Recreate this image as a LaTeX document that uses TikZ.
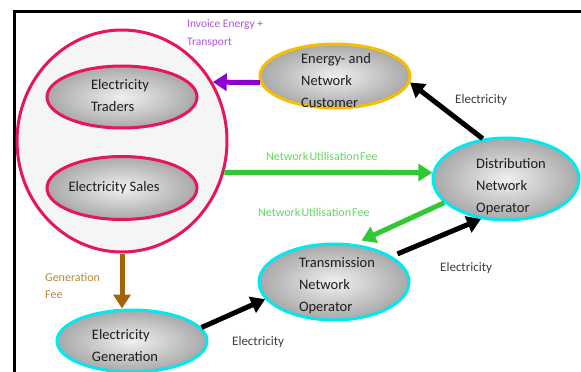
\documentclass[tikz,border=0pt]{standalone}
\usepackage{fontspec}
\setmainfont{Carlito}
\usetikzlibrary{arrows.meta,shapes.geometric}
\definecolor{pinkb}{RGB}{230,22,92}
\definecolor{goldb}{RGB}{245,190,0}
\definecolor{cyanb}{RGB}{0,232,240}
\definecolor{purpa}{RGB}{140,0,210}
\definecolor{purpl}{RGB}{170,85,220}
\definecolor{greena}{RGB}{50,200,50}
\definecolor{greenl}{RGB}{100,212,100}
\definecolor{browna}{RGB}{160,100,10}
\definecolor{brownl}{RGB}{185,135,55}
\definecolor{txt}{RGB}{30,30,30}
\definecolor{lbl}{RGB}{60,60,60}
\newcommand\myNufont{\fontsize{12}{13}\selectfont\spaceskip=1.2pt\relax}
\tikzset{
  oval/.style={ellipse, inner sep=0pt, line width=3pt, inner color=gray!12, outer color=gray!68},
  ovaltext/.style={align=left, font=\fontsize{14.5}{22}\selectfont, text=txt, inner sep=0pt},
  lab/.style={align=left, inner sep=0pt, anchor=west},
  flow/.style={line width=5pt, -{Triangle[length=14pt,width=17pt]}},
}
\begin{document}
\begin{tikzpicture}[x=1pt,y=-1pt]
\useasboundingbox (0,0) rectangle (581,372);
\draw[line width=3pt] (14.7,372) -- (14.7,11.3) -- (581,11.3);

% big group ellipse
\node[ellipse, draw=pinkb, line width=3pt, fill=gray!8, minimum width=210pt, minimum height=222pt, inner sep=0pt] (big) at (122,141) {};
\node[oval, draw=pinkb, minimum width=150pt, minimum height=62pt] (trad) at (122,97) {};
\node[ovaltext] (tradt) at (120,96) {Electricity\\Traders};
\node[oval, draw=pinkb, minimum width=150pt, minimum height=63pt] (sales) at (122,188) {};
\node[ovaltext] (salest) at (114,188) {Electricity Sales};

\node[oval, draw=goldb, minimum width=150pt, minimum height=64pt] (cust) at (335,76) {};
\node[ovaltext] (custt) at (336,80.5) {Energy- and\\Network\\Customer};

\node[oval, draw=cyanb, minimum width=146pt, minimum height=82pt] (dno) at (506,179) {};
\node[ovaltext] (dnot) at (511,186.5) {Distribution\\Network\\Operator};

\node[oval, draw=cyanb, minimum width=150pt, minimum height=76pt] (tno) at (334,282) {};
\node[ovaltext] (tnot) at (337,285.5) {Transmission\\Network\\Operator};

\node[oval, draw=cyanb, minimum width=150pt, minimum height=62pt] (gen) at (132,341) {};
\node[ovaltext] (gent) at (125,345.5) {Electricity\\Generation};

% connectors
\draw[flow, purpa] (cust.185) -- (big.33.8);
\draw[flow, greena] (big.-17.7) -- (dno.175);
\draw[flow, greena, shorten >=8pt] (dno.201) -- (tno.62);
\draw[flow, black] (dno.120.5) -- (cust.-5.5);
\draw[flow, browna] (big.south) -- (big.south |- gen.north);
\draw[flow, black] (gen.11.3) -- (tno.194);
\draw[flow, black, shorten <=6pt] (tno.24.7) -- (dno.238.8);

% labels
\node[lab, text=purpl, font=\fontsize{11.5}{18}\selectfont] (inv) at (187,33) {Invoice Energy +\\Transport};
\node[lab, text=greenl, font=\myNufont] (nuf1) at (266,156) {Network Utilisation Fee};
\node[lab, text=greenl, font=\myNufont] (nuf2) at (258,212) {Network Utilisation Fee};
\node[lab, text=brownl, font=\fontsize{12}{17}\selectfont] (genfee) at (45,285.5) {Generation\\Fee};
\node[lab, text=lbl, font=\fontsize{13}{14}\selectfont] (el1) at (455,100) {Electricity};
\node[lab, text=lbl, font=\fontsize{13}{14}\selectfont] (el2) at (440,268) {Electricity};
\node[lab, text=lbl, font=\fontsize{13}{14}\selectfont] (el3) at (232,342) {Electricity};
\end{tikzpicture}
\end{document}
